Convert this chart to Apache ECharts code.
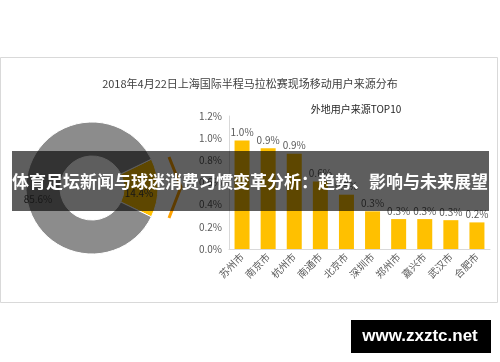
<!DOCTYPE html>
<html>
<head>
<meta charset="utf-8">
<script src="https://cdn.jsdelivr.net/npm/echarts@6/dist/echarts.min.js"></script>
<style>
html,body{margin:0;padding:0;background:#fff;}
#chart{width:500px;height:362px;}
</style>
</head>
<body>
<div id="chart"></div>
<script>
var mainTitle = '2018年4月22日上海国际半程马拉松赛现场移动用户来源分布';
var barTitle = '外地用户来源TOP10';
var pieNames = ['外地用户', '本地用户'];
var pieValues = [14.4, 85.6];
var cities = ['苏州市', '南京市', '杭州市', '南通市', '北京市', '深圳市', '郑州市', '嘉兴市', '武汉市', '合肥市'];
var cityValues = [0.98, 0.91, 0.86, 0.61, 0.49, 0.34, 0.27, 0.27, 0.26, 0.24];
var yTicks = [0, 0.2, 0.4, 0.6, 0.8, 1.0, 1.2];
var bannerText = '体育足坛新闻与球迷消费习惯变革分析：趋势、影响与未来展望';
var watermarkText = 'www.zxztc.net';

var chart = echarts.init(document.getElementById('chart'), null, {renderer: 'canvas'});
var font = '"Noto Sans CJK SC", "Noto Sans", sans-serif';

var option = {
  backgroundColor: '#ffffff',
  animation: false,
  textStyle: {fontFamily: font},
  title: [
    {text: mainTitle, left: 'center', top: 73,
     textStyle: {fontSize: 11, fontWeight: 'normal', color: '#404040', fontFamily: font}},
    {text: barTitle, left: 351, textAlign: 'center', top: 99,
     textStyle: {fontSize: 10, fontWeight: 'normal', color: '#262626', fontFamily: font}}
  ],
  grid: {left: 229, right: 10, top: 116, bottom: 113, containLabel: false},
  xAxis: {
    type: 'category',
    data: cities,
    axisLine: {show: true, lineStyle: {color: '#d9d9d9'}},
    axisTick: {show: false},
    axisLabel: {rotate: 45, fontSize: 10, color: '#595959', margin: 6, interval: 0, fontFamily: font}
  },
  yAxis: {
    type: 'value',
    min: yTicks[0], max: yTicks[yTicks.length - 1], interval: 0.2,
    axisLine: {show: true, lineStyle: {color: '#d9d9d9'}},
    axisTick: {show: false},
    splitLine: {show: false},
    axisLabel: {fontSize: 10, color: '#595959', margin: 7, fontFamily: font,
      formatter: function (v) { return v.toFixed(1) + '%'; }}
  },
  series: [
    {
      type: 'pie',
      center: [92, 188],
      radius: [32, 66],
      startAngle: 25.92,
      clockwise: true,
      avoidLabelOverlap: false,
      itemStyle: {borderColor: '#ffffff', borderWidth: 1},
      label: {show: true, position: 'inside', fontSize: 10, color: '#404040', fontFamily: font,
        formatter: function (p) { return p.value.toFixed(1) + '%'; }},
      labelLine: {show: false},
      data: [
        {name: pieNames[0], value: pieValues[0], itemStyle: {color: '#FFC000'}, label: {offset: [-5, 5]}},
        {name: pieNames[1], value: pieValues[1], itemStyle: {color: '#8C8C8C'}, label: {offset: [-2, 11]}}
      ]
    },
    {
      type: 'bar',
      data: cityValues,
      barWidth: 15,
      itemStyle: {color: '#FFC000'},
      label: {show: true, position: 'top', distance: 3, fontSize: 10, color: '#595959', fontFamily: font,
        formatter: function (p) { return p.value.toFixed(1) + '%'; }}
    }
  ],
  graphic: [
    {type: 'rect', shape: {x: 0.5, y: 57.5, width: 497, height: 245}, style: {fill: 'none', stroke: '#d9d9d9', lineWidth: 1}, z: -1},
    {type: 'polyline', shape: {points: [[169, 157], [181, 187], [169, 218]]}, style: {stroke: '#FFA200', lineWidth: 3, fill: 'none'}, z: 5},
    {type: 'rect', shape: {x: 12, y: 151, width: 477, height: 60}, style: {fill: 'rgba(0,0,0,0.63)'}, z: 100},
    {type: 'text', x: 250, y: 182, z: 101,
     style: {text: bannerText, fill: '#ffffff', fontSize: 17, fontWeight: 'bold', fontFamily: font, align: 'center', verticalAlign: 'middle'}},
    {type: 'rect', shape: {x: 351, y: 320, width: 140, height: 33}, style: {fill: '#000000'}, z: 100},
    {type: 'text', x: 420, y: 336, z: 101,
     style: {text: watermarkText, fill: '#ffffff', fontSize: 17, fontWeight: 'bold', fontFamily: '"Liberation Sans", Arial, sans-serif', align: 'center', verticalAlign: 'middle'}}
  ]
};
chart.setOption(option);
</script>
</body>
</html>
